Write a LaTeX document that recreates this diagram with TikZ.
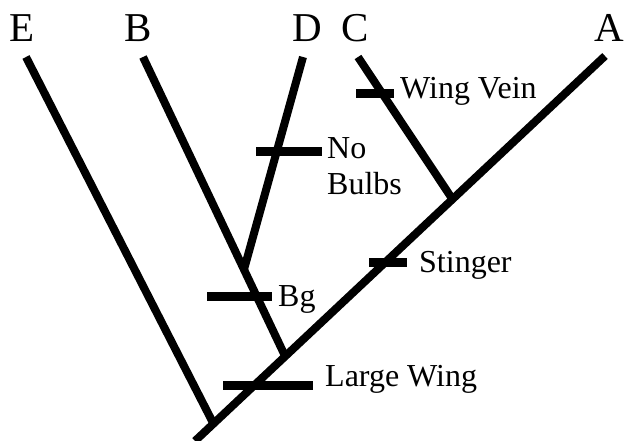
\documentclass[tikz,border=0pt]{standalone}
\usepackage{fontspec}
\setmainfont{Liberation Serif}
\usetikzlibrary{calc,positioning}

\begin{document}
\begin{tikzpicture}[x=1pt,y=1pt,
    branch/.style={line width=8pt},
    trait/.style={line width=9pt},
    taxon/.style={anchor=base,inner sep=0pt,font=\fontsize{41}{41}\selectfont},
    traitlabel/.style={anchor=base west,inner sep=0pt,font=\fontsize{32}{34}\selectfont}]
    \useasboundingbox (0,0) rectangle (625,440);

    % Tips and junctions
    \coordinate (root) at (195,-1);
    \coordinate (tipA) at (605,384);
    \coordinate (tipE) at (26,383);
    \coordinate (tipB) at (143,383);
    \coordinate (tipD) at (303,383);
    \coordinate (tipC) at (358,383);
    \coordinate (jE) at ($(root)!0.045!(tipA)$);
    \coordinate (jB) at ($(root)!0.22!(tipA)$);
    \coordinate (jC) at ($(root)!0.628!(tipA)$);
    \coordinate (jD) at ($(tipB)!0.71!(jB)$);

    % Branches
    \draw[branch] (root) -- (tipA);
    \draw[branch] (tipE) -- (jE);
    \draw[branch] (tipB) -- (jB);
    \draw[branch] (tipD) -- (jD);
    \draw[branch] (tipC) -- (jC);

    % Taxa
    \foreach \name/\x in {E/22, B/138, D/307, C/355, A/609}
        \node[taxon] (taxon\name) at (\x,398) {\name};

    % Character bars
    \coordinate (veinL) at (356,346);   \coordinate (veinR) at (394,346);
    \coordinate (bulbsL) at (256,288);  \coordinate (bulbsR) at (322,288);
    \coordinate (stingL) at (369,177);  \coordinate (stingR) at (407,177);
    \coordinate (bgL) at (207,143);     \coordinate (bgR) at (272,143);
    \coordinate (wingL) at (223,55);    \coordinate (wingR) at (313,55);
    \draw[trait] (veinL) -- (veinR);
    \draw[trait] (bulbsL) -- (bulbsR);
    \draw[trait] (stingL) -- (stingR);
    \draw[trait] (bgL) -- (bgR);
    \draw[trait] (wingL) -- (wingR);

    % Character labels
    \node[traitlabel] (vein) at (400,341) {Wing Vein};
    \node[traitlabel] (bulbsA) at (327,281) {No};
    \node[traitlabel] (bulbsB) at (327,245) {Bulbs};
    \node[traitlabel] (sting) at (419,167) {Stinger};
    \node[traitlabel] (bg) at (278,133) {Bg};
    \node[traitlabel] (wing) at (325,53) {Large Wing};
\end{tikzpicture}
\end{document}
